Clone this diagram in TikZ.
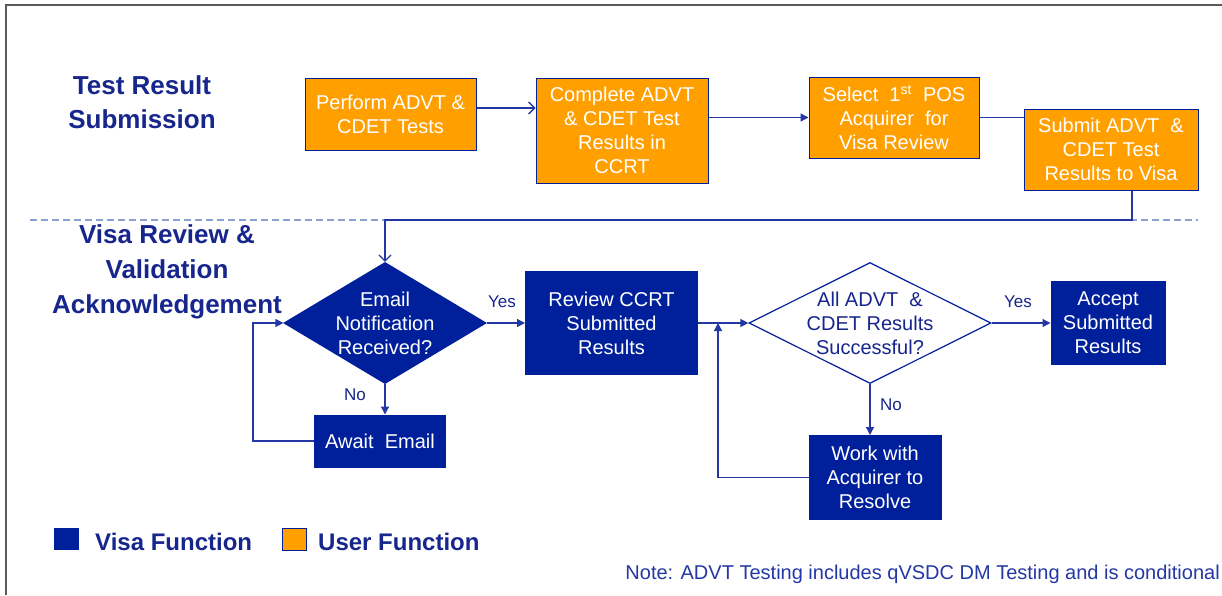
\documentclass[tikz,border=0pt]{standalone}
\usepackage{fontspec}
\setmainfont{Liberation Sans}
\usetikzlibrary{arrows.meta,shapes.geometric,calc}
\definecolor{visablue}{RGB}{0,32,155}
\definecolor{userorange}{RGB}{255,160,0}
\definecolor{navy}{RGB}{22,38,140}
\definecolor{linkblue}{RGB}{35,55,165}
\definecolor{dashblue}{RGB}{140,160,205}
\definecolor{framegray}{RGB}{90,90,90}
\begin{document}
\begin{tikzpicture}[x=1pt,y=-1pt,
  box/.style={rectangle, inner sep=0pt, align=center, text=white, font=\fontsize{20}{24}\selectfont},
  userbox/.style={box, fill=userorange, draw=visablue, line width=1pt},
  visabox/.style={box, fill=visablue, draw=visablue, line width=1pt},
  dia/.style={diamond, inner sep=0pt, draw=visablue, line width=1.2pt},
  diatext/.style={align=center, font=\fontsize{20}{24}\selectfont},
  title/.style={align=center, text=navy, font=\bfseries\fontsize{26}{34}\selectfont},
  lbl/.style={text=navy, font=\fontsize{17}{20}\selectfont, inner sep=0pt},
  conn/.style={draw=linkblue, line width=1.3pt},
  fill tip/.style={-{Triangle[length=8pt,width=8pt]}},
  open tip/.style={-{Straight Barb[length=6pt,width=12pt,line width=1.3pt]}},
  legendtext/.style={anchor=west, text=navy, font=\bfseries\fontsize{24}{28}\selectfont, inner sep=0pt}
]
\useasboundingbox (0,0) rectangle (1222,595);
% frame
\draw[framegray, line width=1.2pt] (6,595) -- (6,5) -- (1222,5);
% section separator
\draw[dashblue, line width=1.2pt, dash pattern=on 7pt off 4pt] (30,220) -- (1198,220);

% titles
\node[title] (t1) at (142,102) {Test Result\\Submission};
\node[title, font=\bfseries\fontsize{26}{35}\selectfont] (t2) at (167,272) {Visa Review \&\\Validation\\Acknowledgement};

% top row (user functions)
\node[userbox, minimum width=171pt, minimum height=72pt] (b1) at (390.5,114) {Perform ADVT \&\\CDET Tests};
\node[userbox, minimum width=172pt, minimum height=105pt] (b2) at (622,130.5) {Complete ADVT\\\& CDET Test\\Results in\\CCRT};
\node[userbox, minimum width=170pt, minimum height=81pt] (b3) at (894,117.5) {Select \ 1\textsuperscript{st} \ POS\\Acquirer \ for\\Visa Review};
\node[userbox, minimum width=174pt, minimum height=81pt] (b4) at (1111,149.5) {Submit ADVT \ \&\\CDET Test\\Results to Visa};

% bottom section
\node[dia, fill=visablue, minimum width=202pt, minimum height=121pt,
      label={[diatext, text=white]center:Email\\Notification\\Received?}] (d1) at (385,323) {};
\node[visabox, minimum width=131pt, minimum height=52pt] (aw) at (380,441) {Await \ Email};
\node[visabox, minimum width=172pt, minimum height=103pt] (rv) at (611.5,323) {Review CCRT\\Submitted\\Results};
\node[dia, fill=white, minimum width=242pt, minimum height=121pt,
      label={[diatext, text=navy]center:All ADVT \ \&\\CDET Results\\Successful?}] (d2) at (870,323) {};
\node[visabox, minimum width=114pt, minimum height=83pt] (ac) at (1108,323) {Accept\\Submitted\\Results};
\node[visabox, minimum width=132pt, minimum height=84pt] (wk) at (875,477.5) {Work with\\Acquirer to\\Resolve};

\coordinate (fb) at (1132,220);
\coordinate (lp1) at (253,323);
\coordinate (lp2) at (718,323);

% connectors
\draw[conn, open tip] ([yshift=6pt]b1.east) -- ([yshift=6pt]b1.east -| b2.west);
\draw[conn, fill tip] (b2.east |- b3.west) -- (b3.west);
\draw[conn] (b3.east) -- (b3.east -| b4.west);
\draw[conn, open tip] (b4.south -| fb) -- (fb) -| (d1.north);
\draw[conn, fill tip] (d1.south) -- (d1.south |- aw.north);
\draw[conn, fill tip] (aw.west) -| (lp1) -- (d1.west);
\draw[conn, fill tip] (d1.east) -- (rv.west);
\draw[conn, fill tip] (rv.east) -- (d2.west);
\draw[conn, fill tip] (d2.east) -- (ac.west);
\draw[conn, fill tip] (d2.south) -- (d2.south |- wk.north);
\draw[conn, fill tip] (wk.west) -| (lp2);

% branch labels
\node[lbl] (n1) at (355,395) {No};
\node[lbl] (y1) at (502,302) {Yes};
\node[lbl] (y2) at (1018,302) {Yes};
\node[lbl] (n2) at (891,405) {No};

% legend
\node[rectangle, fill=visablue, minimum width=25pt, minimum height=22pt, inner sep=0pt] (lv) at (66,539) {};
\node[legendtext] (lvt) at (95,542) {Visa Function};
\node[rectangle, fill=userorange, draw=visablue, line width=1pt, minimum width=24pt, minimum height=22pt, inner sep=0pt] (lu) at (294,539) {};
\node[legendtext] (lut) at (318,542) {User Function};

% note
\node[anchor=east, text=linkblue, font=\fontsize{20}{24}\selectfont, inner sep=0pt] (note) at (1220,574) {Note: ADVT Testing includes qVSDC DM Testing and is conditional};
\end{tikzpicture}
\end{document}
